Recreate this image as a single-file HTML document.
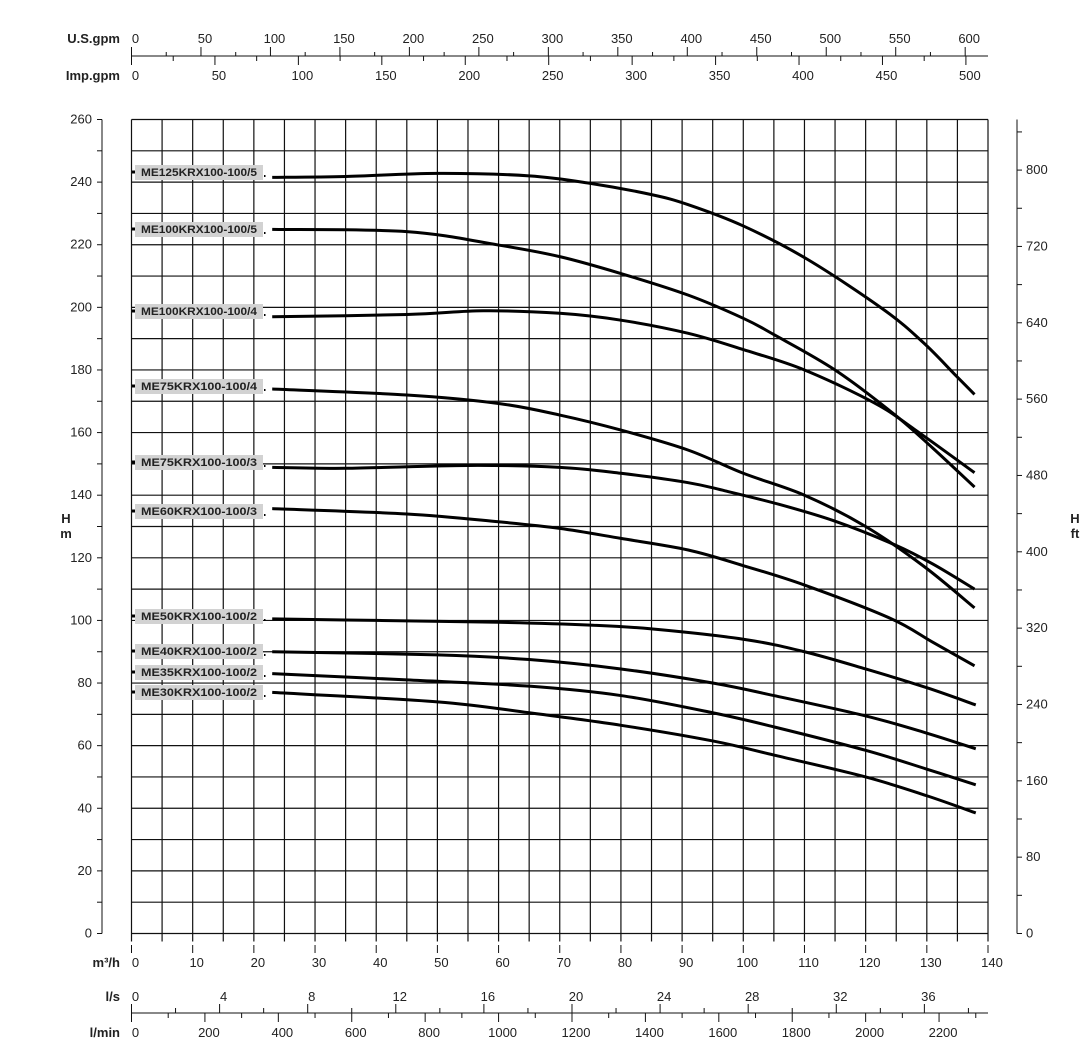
<!DOCTYPE html>
<html><head><meta charset="utf-8"><style>
html,body{margin:0;padding:0;background:#fff}
svg{display:block;font-family:"Liberation Sans",Arial,sans-serif}
</style></head><body>
<svg id="s" width="1089" height="1045" viewBox="0 0 1089 1045" xmlns="http://www.w3.org/2000/svg"></svg>
<script>
const S=document.getElementById('s');let h='';
const X0=131.5,X1=988,Y0=933.5,Y1=119.5;
const px=q=>X0+q*(X1-X0)/140, py=H=>Y0-H*(Y0-Y1)/260;
const L=(a,b,c,d,w)=>h+=`<line x1="${a}" y1="${b}" x2="${c}" y2="${d}" stroke="#111" stroke-width="${w||1}"/>`;
const T=(x,y,t,a,b,s)=>h+=`<text x="${x}" y="${y}" font-size="${s||13}" text-anchor="${a||'middle'}" ${b?'font-weight="bold"':''} fill="#222">${t}</text>`;
for(let i=0;i<=28;i++){const x=px(i*5);L(x,Y1,x,Y0+8,1.2);}
for(let i=0;i<=26;i++){const y=py(i*10);L(X0,y,X1,y,1.2);}
L(102,Y1,102,Y0);
for(let i=0;i<=26;i++){const y=py(i*10);L(97,y,102,y);if(i%2==0)T(92,y+4,i*10,'end');}
T(66,523,'H','middle',1,13);T(66,538,'m','middle',1,13);
const pf=f=>Y0-f*0.3048*(Y0-Y1)/260;
L(1017,Y1,1017,Y0);
for(let f=0;f<=840;f+=40){const y=pf(f);L(1017,y,1022,y);if(f%80==0)T(1026,y+4,f,'start');}
T(1075,523,'H','middle',1,13);T(1075,538,'ft','middle',1,13);
for(let q=0;q<=140;q+=10){const x=px(q);L(x,945,x,953);T(x+4,967,q);}
T(120,967,'m³/h','end',1);
L(X0,56,X1,56);
for(let g=0;g<=600;g+=25){const x=X0+g/4.403*(X1-X0)/140;L(x,56,x,g%50==0?47:52);if(g%50==0)T(x+4,43,g);}
for(let g=0;g<=500;g+=25){const x=X0+g/3.666*(X1-X0)/140;L(x,56,x,g%50==0?65:61);if(g%50==0)T(x+4,80,g);}
T(120,43,'U.S.gpm','end',1);T(120,80,'Imp.gpm','end',1);
L(X0,1013,X1,1013);
for(let l=0;l<=38;l+=2){const x=px(l*3.6);L(x,1013,x,l%4==0?1004:1008);if(l%4==0)T(x+4,1001,l);}
for(let l=0;l<=2300;l+=100){const x=px(l*0.06);L(x,1013,x,l%200==0?1022:1018);if(l%200==0)T(x+4,1037,l);}
T(120,1001,'l/s','end',1);T(120,1037,'l/min','end',1);
const C=[
['ME125KRX100-100/5',172,[[23,241.5],[35,241.8],[50,242.8],[65,242],[75,239.6],[85,236],[91,232.8],[100,226],[110.6,215.2],[123,199.2],[129.5,188.6],[134.6,178.5],[137.8,172.2]]],
['ME100KRX100-100/5',229,[[23,224.9],[45,224.2],[60,219.9],[70,216.2],[80,210.8],[91,203.9],[100,196.5],[105,191.3],[115,180],[124.7,165.8],[131,155],[137.8,142.6]]],
['ME100KRX100-100/4',311,[[23,197],[45,197.7],[57.5,198.9],[70,198.1],[80,195.9],[91,191.7],[100,186.5],[110,180],[121.5,169.4],[128,161],[137.8,147.2]]],
['ME75KRX100-100/4',386,[[23,173.9],[45,172],[60,169.3],[70,165.6],[80,160.8],[91,154.4],[100,147],[110,140],[120,130],[129.5,117.3],[137.8,104]]],
['ME75KRX100-100/3',462,[[23,148.9],[35,148.6],[55,149.5],[70,148.9],[80,147],[91,144],[97,141.4],[106,137],[115,131.7],[124.7,124.2],[131,118],[137.8,110]]],
['ME60KRX100-100/3',511,[[23,135.7],[45,134],[60,131.5],[70,129.4],[80,126.2],[91,122.5],[100,117.5],[110,111.3],[124,100.7],[131,93],[137.8,85.5]]],
['ME50KRX100-100/2',616,[[23,100.5],[40,100],[60,99.4],[75,98.5],[85,97.3],[100,94],[110,90],[120,84.5],[130,78.5],[138,73]]],
['ME40KRX100-100/2',651,[[23,90],[50,89],[65,87.5],[80,84.5],[95,80],[105,76],[120,69.5],[130,64],[138,59]]],
['ME35KRX100-100/2',672,[[23,83],[45,81],[65,79],[80,76],[95,70.5],[105,66],[120,58.5],[130,52.5],[138,47.5]]],
['ME30KRX100-100/2',692,[[23,77],[50,74],[65,70.5],[80,66.5],[95,61.5],[105,57],[120,50],[130,44],[138,38.5]]]];
for(const [n,ly,p] of C){
 const P=p.map(a=>[px(a[0]),py(a[1])]);let d=`M${P[0][0]},${P[0][1]}`;
 for(let i=0;i<P.length-1;i++){const a=P[i-1]||P[i],b=P[i],c=P[i+1],e=P[i+2]||c;
  d+=` C${b[0]+(c[0]-a[0])/6},${b[1]+(c[1]-a[1])/6} ${c[0]-(e[0]-b[0])/6},${c[1]-(e[1]-b[1])/6} ${c[0]},${c[1]}`;}
 h+=`<path d="${d}" fill="none" stroke="#000" stroke-width="3"/>`;
 h+=`<rect x="135" y="${ly-7}" width="128" height="15" fill="#d2d2d2"/>`;
 h+=`<rect x="132" y="${ly-1.5}" width="3" height="3" fill="#000"/><rect x="264" y="${ly+3}" width="1.5" height="2" fill="#000"/>`;
 h+=`<text x="199" y="${ly+4}" font-size="11" font-weight="bold" text-anchor="middle" fill="#222" textLength="116" lengthAdjust="spacingAndGlyphs">${n}</text>`;
}
S.innerHTML=h;
</script>
</body></html>
